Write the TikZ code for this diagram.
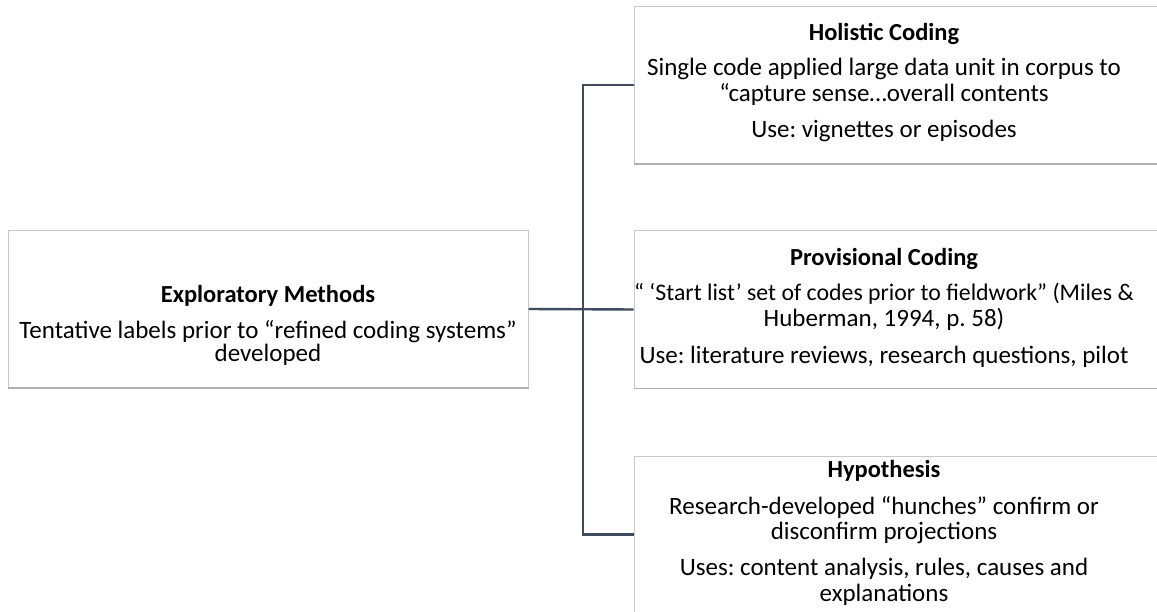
\documentclass[tikz,border=0pt]{standalone}
\usepackage{fontspec}
\setmainfont{Carlito}
\frenchspacing
\definecolor{linec}{HTML}{3F4B5E}
\definecolor{boxc}{HTML}{C8C8C8}
\definecolor{shadc}{HTML}{B0B0B0}
\begin{document}
\frenchspacing
\begin{tikzpicture}[x=1pt,y=-1pt,
  box/.style={draw=boxc, line width=1pt, fill=white, inner sep=0pt, minimum height=157pt},
  ln/.style={anchor=base, font=\fontsize{25}{25}\selectfont, inner sep=0pt, text height=16pt, text depth=4pt},
  hd/.style={ln, font=\fontsize{24.5}{25}\selectfont\bfseries},
  conn/.style={draw=linec, line width=2.4pt}]
\useasboundingbox (0,0) rectangle (1157,612);
\fill[white] (0,0) rectangle (1157,612);
% boxes
\node[box, minimum width=520pt] (L) at (268,309) {};
\node[box, minimum width=560pt, anchor=west] (H) at (633.5,85) {};
\node[box, minimum width=560pt, anchor=west] (P) at (633.5,309.5) {};
\node[box, minimum width=560pt, anchor=west] (Y) at (633.5,534.5) {};
% shadows (bottom edges)
\draw[shadc, line width=1.5pt] (L.south west) -- (L.south east);
\draw[shadc, line width=1.5pt] (H.south west) -- (H.south east);
\draw[shadc, line width=1.5pt] (P.south west) -- (P.south east);
% left box text
\node[hd] (L1) at (268,302.5) {Exploratory Methods};
\node[ln] (L2) at (268,338.5) {Tentative labels prior to “refined coding systems”};
\node[ln] (L3) at (268,362) {developed};
% holistic
\node[hd] (H1) at (884,41) {Holistic Coding};
\node[ln] (H2) at (884,76) {Single code applied large data unit in corpus to};
\node[ln] (H3) at (884,102) {“capture sense…overall contents};
\node[ln] (H4) at (884,138) {Use: vignettes or episodes};
% provisional
\node[hd] (P1) at (884,266) {Provisional Coding};
\node[ln, font=\fontsize{23.8}{25}\selectfont] (P2) at (884,301) {“ ‘Start list’ set of codes prior to fieldwork” (Miles \&};
\node[ln] (P3) at (884,327) {Huberman, 1994, p. 58)};
\node[ln] (P4) at (884,363) {Use: literature reviews, research questions, pilot};
% hypothesis
\node[hd] (Y1) at (884,477) {Hypothesis};
\node[ln] (Y2) at (884,514) {Research-developed “hunches” confirm or};
\node[ln] (Y3) at (884,539) {disconfirm projections};
\node[ln] (Y4) at (884,575) {Uses: content analysis, rules, causes and};
\node[ln] (Y5) at (884,601) {explanations};
% connectors
\coordinate (J) at (583,309);
\draw[conn] (L.east) -- (P.west);
\draw[conn] (H.west) -| (J) |- (Y.west);
\end{tikzpicture}
\end{document}
